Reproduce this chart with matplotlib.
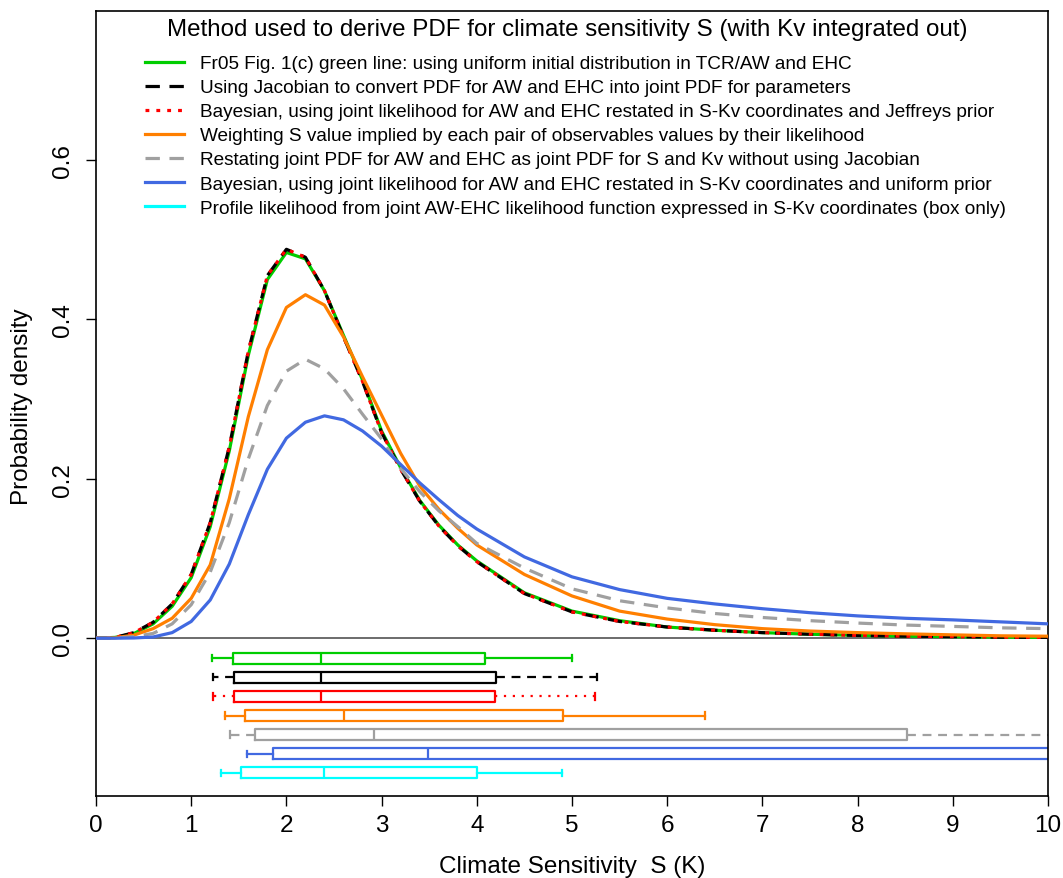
import matplotlib
matplotlib.use('Agg')
import matplotlib.pyplot as plt
from matplotlib.lines import Line2D

plt.rcParams['font.family'] = ['Liberation Sans', 'DejaVu Sans']

# ---- curve data ----
S = [0, 0.2, 0.4, 0.6, 0.8, 1.0, 1.2, 1.4, 1.6, 1.8, 2.0, 2.2, 2.4, 2.6, 2.8,
     3.0, 3.2, 3.4, 3.6, 3.8, 4.0, 4.5, 5.0, 5.5, 6.0, 6.5, 7.0, 7.5, 8.0,
     8.5, 9.0, 9.5, 10.0]

pdf_fr05 = [0, 0.001, 0.006, 0.018, 0.040, 0.076, 0.140, 0.235, 0.355, 0.450,
            0.484, 0.476, 0.436, 0.380, 0.324, 0.260, 0.214, 0.173, 0.142,
            0.117, 0.097, 0.057, 0.034, 0.022, 0.014, 0.010, 0.007, 0.005,
            0.0035, 0.0025, 0.002, 0.0013, 0.001]
pdf_jacobian = [0, 0.001, 0.007, 0.020, 0.043, 0.080, 0.145, 0.240, 0.360,
                0.455, 0.488, 0.478, 0.436, 0.378, 0.322, 0.258, 0.212, 0.172,
                0.141, 0.116, 0.096, 0.056, 0.033, 0.021, 0.014, 0.010, 0.007,
                0.005, 0.0035, 0.0025, 0.002, 0.0013, 0.001]
pdf_jeffreys = [0, 0.001, 0.007, 0.020, 0.043, 0.080, 0.145, 0.240, 0.360,
                0.455, 0.488, 0.478, 0.436, 0.378, 0.322, 0.258, 0.212, 0.172,
                0.141, 0.116, 0.096, 0.056, 0.033, 0.021, 0.014, 0.010, 0.007,
                0.005, 0.0035, 0.0025, 0.002, 0.0013, 0.001]
pdf_weighting = [0, 0.0005, 0.004, 0.012, 0.025, 0.050, 0.092, 0.175, 0.278,
                 0.362, 0.415, 0.431, 0.418, 0.378, 0.328, 0.280, 0.232, 0.191,
                 0.162, 0.138, 0.117, 0.080, 0.053, 0.034, 0.024, 0.017, 0.012,
                 0.009, 0.007, 0.0055, 0.0042, 0.003, 0.0025]
pdf_nojacobian = [0, 0.0003, 0.002, 0.006, 0.018, 0.042, 0.083, 0.145, 0.225,
                  0.292, 0.335, 0.350, 0.338, 0.313, 0.281, 0.250, 0.213, 0.184,
                  0.160, 0.140, 0.119, 0.088, 0.062, 0.047, 0.038, 0.031, 0.026,
                  0.022, 0.019, 0.0165, 0.0148, 0.013, 0.012]
pdf_uniform = [0, 0, 0.0003, 0.0015, 0.007, 0.021, 0.048, 0.093, 0.155, 0.212,
               0.251, 0.271, 0.279, 0.274, 0.260, 0.241, 0.218, 0.195, 0.174,
               0.154, 0.137, 0.102, 0.077, 0.061, 0.050, 0.043, 0.037, 0.032,
               0.028, 0.025, 0.023, 0.0205, 0.018]

# ---- box plot data: whisker low, q1, median, q3, whisker high ----
box_fr05 = [1.215, 1.435, 2.36, 4.09, 5.00]
box_jacobian = [1.23, 1.45, 2.36, 4.20, 5.26]
box_jeffreys = [1.23, 1.45, 2.36, 4.19, 5.24]
box_weighting = [1.35, 1.57, 2.60, 4.91, 6.40]
box_nojacobian = [1.41, 1.67, 2.92, 8.52, 12.0]
box_uniform = [1.59, 1.86, 3.49, 11.0, 16.0]
box_profile = [1.31, 1.52, 2.39, 4.00, 4.90]

labels = [
    'Fr05 Fig. 1(c) green line: using uniform initial distribution in TCR/AW and EHC',
    'Using Jacobian to convert PDF for AW and EHC into joint PDF for parameters',
    'Bayesian, using joint likelihood for AW and EHC restated in S-Kv coordinates and Jeffreys prior',
    'Weighting S value implied by each pair of observables values by their likelihood',
    'Restating joint PDF for AW and EHC as joint PDF for S and Kv without using Jacobian',
    'Bayesian, using joint likelihood for AW and EHC restated in S-Kv coordinates and uniform prior',
    'Profile likelihood from joint AW-EHC likelihood function expressed in S-Kv coordinates (box only)',
]
legend_title = 'Method used to derive PDF for climate sensitivity S (with Kv integrated out)'

colors = ['#00CD00', 'black', '#FF0000', '#FF7F00', '#A0A0A0', '#4169E1', '#00FFFF']
curve_ls = ['-', (0, (4.5, 3)), (0, (1.2, 2.2)), '-', (0, (4.5, 3)), '-']
whisk_ls = ['-', (0, (4, 3)), (0, (1, 3)), '-', (0, (4, 3)), '-', '-']

curves = [pdf_fr05, pdf_jacobian, pdf_jeffreys, pdf_weighting, pdf_nojacobian, pdf_uniform]
boxes = [box_fr05, box_jacobian, box_jeffreys, box_weighting, box_nojacobian,
         box_uniform, box_profile]
box_pos = [-0.025, -0.049, -0.073, -0.097, -0.121, -0.145, -0.169]

fig = plt.figure(figsize=(10.63, 8.79), dpi=100)
ax = fig.add_axes([96 / 1063, 1 - 797 / 879, 952 / 1063, 785 / 879])

ax.axhline(0, color='#606060', lw=1.3, zorder=1)

handles = []
for y, c, ls in zip(curves, colors, curve_ls):
    h, = ax.plot(S, y, color=c, ls=ls, lw=2.3, zorder=3)
    handles.append(h)
handles.append(Line2D([], [], color=colors[6], lw=2.3))

# box plots under the curves
for b, c, ls, p in zip(boxes, colors, whisk_ls, box_pos):
    st = [{'whislo': b[0], 'q1': b[1], 'med': b[2], 'q3': b[3], 'whishi': b[4],
           'fliers': []}]
    ax.bxp(st, positions=[p], widths=0.0138, orientation='horizontal',
           showfliers=False, manage_ticks=False, capwidths=0.008,
           boxprops=dict(color=c, lw=1.6),
           medianprops=dict(color=c, lw=1.6),
           whiskerprops=dict(color=c, lw=1.6, ls=ls),
           capprops=dict(color=c, lw=1.6))

ax.set_xlim(0, 10)
ax.set_ylim(-0.198, 0.787)
ax.set_xticks(range(11))
ax.set_yticks([0, 0.2, 0.4, 0.6])
ax.set_yticklabels(['0.0', '0.2', '0.4', '0.6'], rotation=90, va='center')
ax.tick_params(axis='both', length=7, width=1, labelsize=17.5)
ax.tick_params(axis='x', pad=6)
ax.tick_params(axis='y', pad=9)
for sp in ax.spines.values():
    sp.set_linewidth(1.2)

ax.legend(handles, labels, loc='upper left',
          bbox_to_anchor=((145 - 96) / 952, (797 - 56) / 785),
          frameon=False, fontsize=13.7, handlelength=2.05, handletextpad=0.84,
          labelspacing=0.353, borderpad=0, borderaxespad=0)
fig.text(567 / 1063, 1 - 30 / 879, legend_title, ha='center', va='center',
         fontsize=17.4)

fig.text(22 / 1063, 1 - 407 / 879, 'Probability density', rotation=90,
         ha='center', va='center', fontsize=17.5)
fig.text(572 / 1063, 1 - 867 / 879, 'Climate Sensitivity  S (K)',
         ha='center', va='center', fontsize=17.5)

fig.savefig('out.png', dpi=100)
